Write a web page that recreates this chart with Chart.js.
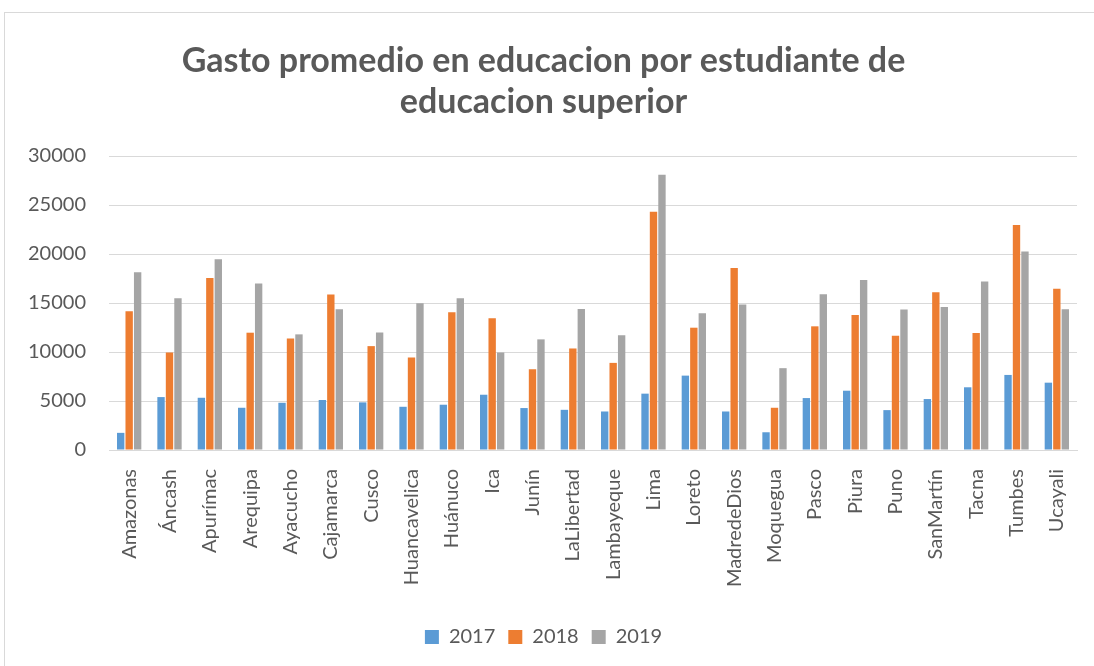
<!DOCTYPE html>
<html>
<head>
<meta charset="utf-8">
<script src="https://cdn.jsdelivr.net/npm/chart.js@4"></script>
<style>
  html, body { margin: 0; padding: 0; background: #fff; }
  #wrap { position: relative; width: 1094px; height: 666px; }
  #frame { position: absolute; left: 4px; top: 12px; width: 1100px; height: 660px; border: 1px solid #d9d9d9; box-sizing: border-box; }
  canvas { position: absolute; left: 0; top: 0; }
</style>
</head>
<body>
<div id="wrap">
  <div id="frame"></div>
  <canvas id="chart" width="1094" height="666"></canvas>
</div>
<script>
    const REGIONS = [
        'Amazonas', 'Áncash', 'Apurímac', 'Arequipa', 'Ayacucho', 'Cajamarca',
        'Cusco', 'Huancavelica', 'Huánuco', 'Ica', 'Junín', 'LaLibertad',
        'Lambayeque', 'Lima', 'Loreto', 'MadredeDios', 'Moquegua', 'Pasco',
        'Piura', 'Puno', 'SanMartín', 'Tacna', 'Tumbes', 'Ucayali'
    ];

    const GASTO_2017 = [
        1750, 5400, 5330, 4310, 4820, 5100, 4860, 4410, 4620, 5640, 4280, 4100,
        3930, 5750, 7590, 3930, 1810, 5300, 6050, 4070, 5200, 6400, 7660, 6870
    ];
    const GASTO_2018 = [
        14160, 9950, 17540, 11970, 11390, 15870, 10600, 9440, 14060, 13440, 8240, 10360,
        8890, 24320, 12480, 18570, 4310, 12620, 13780, 11660, 16110, 11940, 22950, 16450
    ];
    const GASTO_2019 = [
        18130, 15490, 19460, 17000, 11800, 14360, 12000, 14980, 15490, 9950, 11290, 14400,
        11700, 28080, 13950, 14840, 8350, 15900, 17340, 14330, 14600, 17200, 20250, 14360
    ];

    const Y_TICKS = [0, 5000, 10000, 15000, 20000, 25000, 30000];

    const TEXT = '#595959';
    const FONT = "'Lato', 'Open Sans', sans-serif";

    function serie(label, data, color) {
        return {
            label: label,
            data: data,
            backgroundColor: color,
            borderWidth: 0,
            categoryPercentage: 0.63,
            barPercentage: 0.87
        };
    }

    const grafico = new Chart(document.getElementById('chart'), {
        type: 'bar',
        data: {
            labels: REGIONS,
            datasets: [
                serie('2017', GASTO_2017, '#5b9bd5'),
                serie('2018', GASTO_2018, '#ed7d31'),
                serie('2019', GASTO_2019, '#a5a5a5')
            ]
        },
        options: {
            responsive: false,
            animation: false,
            layout: {
                padding: { left: 10, right: 17, top: 18, bottom: 9 }
            },
            plugins: {
                title: {
                    display: true,
                    text: ['Gasto promedio en educacion por estudiante de', 'educacion superior'],
                    color: TEXT,
                    font: { family: FONT, size: 34, weight: 'bold', lineHeight: 1.206 },
                    padding: { top: 23, bottom: 33 }
                },
                legend: {
                    position: 'bottom',
                    labels: {
                        color: TEXT,
                        font: { family: FONT, size: 20 },
                        boxWidth: 14,
                        boxHeight: 14,
                        padding: 13
                    }
                },
                tooltip: { enabled: false }
            },
            scales: {
                x: {
                    grid: { display: false },
                    border: { color: '#d9d9d9' },
                    ticks: {
                        color: TEXT,
                        font: { family: FONT, size: 20 },
                        minRotation: 90,
                        maxRotation: 90,
                        autoSkip: false,
                        padding: 11
                    },
                    afterFit: function (s) { s.height = 164; }
                },
                y: {
                    min: 0,
                    max: 30000,
                    afterBuildTicks: function (s) { s.ticks = Y_TICKS.map(v => ({ value: v })); },
                    grid: { color: '#d9d9d9', drawTicks: false },
                    border: { display: false },
                    ticks: {
                        color: TEXT,
                        font: { family: FONT, size: 20 },
                        padding: 23,
                        callback: v => String(v)
                    },
                    afterFit: function (s) { s.width = 99; }
                }
            }
        }
    });
</script>
</body>
</html>
